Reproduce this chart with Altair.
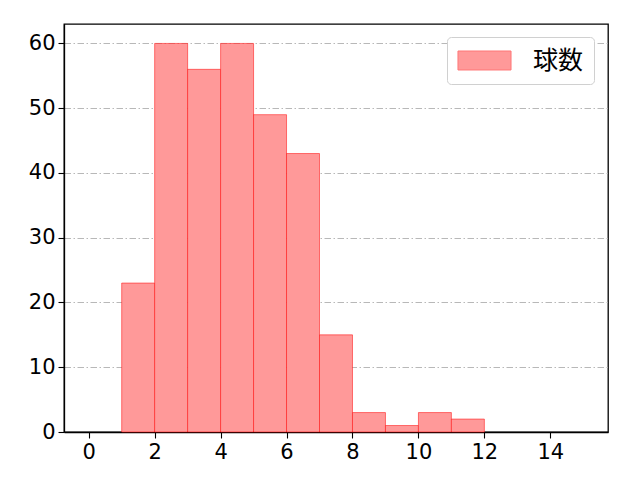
import pandas as pd
import altair as alt

bin_start = [1, 2, 3, 4, 5, 6, 7, 8, 9, 10, 11]
counts = [23, 60, 56, 60, 49, 43, 15, 3, 1, 3, 2]
series_name = "球数"

df = pd.DataFrame({
    "start": bin_start,
    "end": [b + 1 for b in bin_start],
    "count": counts,
    "series": series_name,
})

font = "Noto Sans CJK JP"
tick_style = dict(
    labelFont="DejaVu Sans",
    labelFontSize=21,
    labelColor="black",
    domainColor="black",
    domainWidth=1.3,
    tickColor="black",
    tickSize=6,
    tickWidth=1.1,
    labelPadding=3,
    title=None,
)

bars = (
    alt.Chart(df)
    .mark_rect(fillOpacity=1, stroke="red", strokeOpacity=0.5, strokeWidth=1)
    .encode(
        x=alt.X(
            "start:Q",
            scale=alt.Scale(domain=[-0.75, 15.75], nice=False, zero=False),
            axis=alt.Axis(values=list(range(0, 16, 2)), grid=False, **tick_style),
        ),
        x2="end:Q",
        y=alt.Y(
            "count:Q",
            scale=alt.Scale(domain=[0, 63], nice=False),
            axis=alt.Axis(
                values=list(range(0, 61, 10)),
                grid=True,
                gridColor="#b0b0b0",
                gridDash=[6.5, 2.5, 1.5, 2.5],
                gridWidth=0.9,
                **tick_style,
            ),
        ),
        y2=alt.datum(0),
        color=alt.Color(
            "series:N",
            scale=alt.Scale(range=["#ff9999"]),
            legend=alt.Legend(
                title=None,
                orient="none",
                legendX=383,
                legendY=13,
                symbolType="M-2.04,-0.73H2.04V0.73H-2.04Z",
                symbolSize=676,
                symbolOffset=14,
                symbolStrokeColor="#ff7777",
                symbolStrokeWidth=1,
                symbolOpacity=1,
                labelFont=font,
                labelFontSize=25,
                labelColor="black",
                labelOffset=35,
                padding=10,
                fillColor="white",
                strokeColor="#d0d0d0",
                cornerRadius=4,
            ),
        ),
    )
)

chart = (
    bars.properties(
        width=544,
        height=408,
        padding={"left": 56, "top": 16, "right": 24, "bottom": 40},
        autosize=alt.AutoSizeParams(type="none"),
    )
    .configure_view(stroke="black", strokeWidth=1.3)
)

chart.save("out.html", embed_options={"renderer": "svg", "actions": False})
